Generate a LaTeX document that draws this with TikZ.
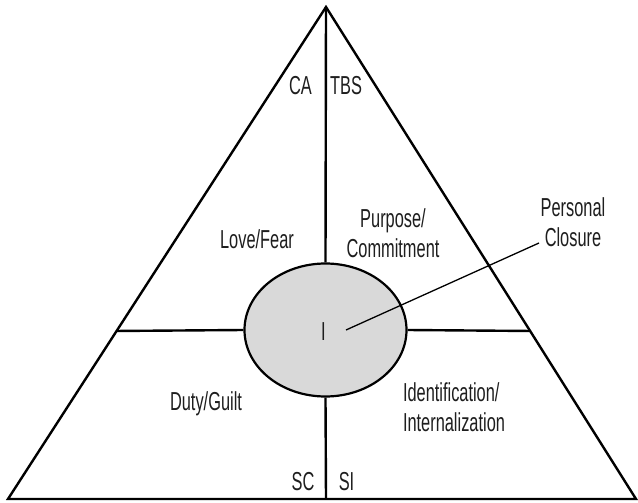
\documentclass[tikz,border=0pt]{standalone}
\usepackage{fontspec}
\setmainfont{Liberation Sans}[FakeStretch=0.63]
\usetikzlibrary{calc,shapes.geometric}
\definecolor{corefill}{RGB}{217,217,217}
\definecolor{inktext}{RGB}{30,30,30}
\begin{document}
\begin{tikzpicture}[x=1pt,y=-1pt,
  edge/.style={line width=2.4pt,line cap=butt,line join=miter},
  pointer/.style={line width=1.3pt},
  lbl/.style={inner sep=0pt,outer sep=0pt,text=inktext,
    font=\fontsize{26}{30}\selectfont,anchor=base},
  core/.style={ellipse,draw,line width=2.2pt,fill=corefill,
    minimum width=162pt,minimum height=133pt,inner sep=0pt}]
\useasboundingbox (0,0) rectangle (638,503);
% corners of the triangle
\coordinate (apex) at (326,7);
\coordinate (bl) at (8,499);
\coordinate (br) at (636,499);
\coordinate (bm) at (326,499);
% ends of the horizontal divider on the two sides
\coordinate (ml) at ($(apex)!0.6585!(bl)$);
\coordinate (mr) at ($(apex)!0.6585!(br)$);
% central ellipse
\node[core] (core) at (325.5,330) {};
\draw[edge] (bl) -- (apex) -- (br) -- cycle;
\draw[edge] (apex) -- (core.north);
\draw[edge] (core.south) -- (bm);
\draw[edge] (ml) -- (core.west);
\draw[edge] (core.east) -- (mr);
% labels (two-line labels are anchored on their last line)
\node[lbl] (i) at (323.5,340) {I};
\node[lbl] (ca) at (300.5,95) {CA};
\node[lbl] (tbs) at (346,95) {TBS};
\node[lbl] (sc) at (303,490) {SC};
\node[lbl] (si) at (346.5,490) {SI};
\node[lbl] (love) at (257,248) {Love/Fear};
\node[lbl,align=center] (purpose) at (393,257) {Purpose/\\Commitment};
\node[lbl] (duty) at (206,410) {Duty/Guilt};
\node[lbl,align=left,anchor=base west] (ident) at (403,431) {Identification/\\Internalization};
\node[lbl,align=center] (closure) at (573,246.5) {Personal\\Closure};
% pointer from the closure label into the ellipse
\coordinate (tip) at (346,330);
\draw[pointer] (tip) -- (539,243);
\end{tikzpicture}
\end{document}
